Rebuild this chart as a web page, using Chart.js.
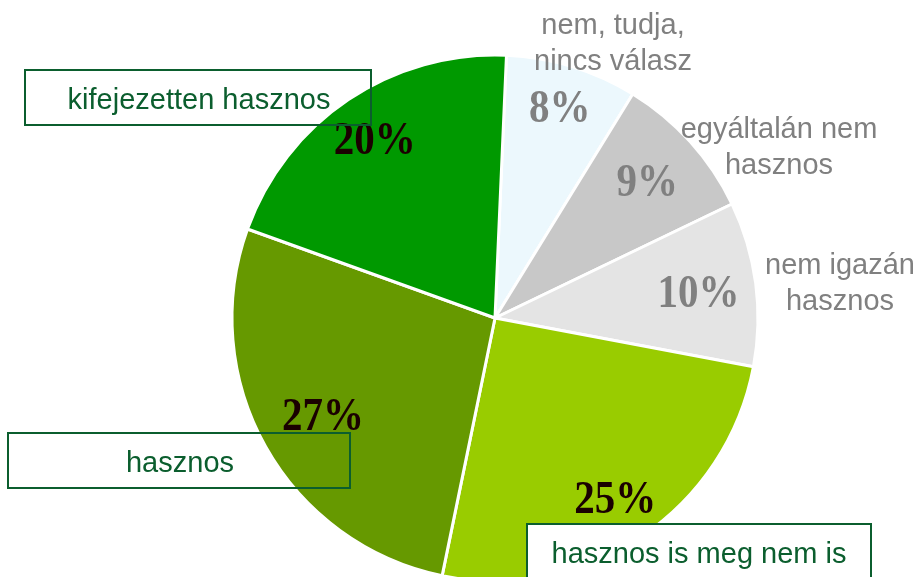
<!DOCTYPE html>
<html>
<head>
<meta charset="utf-8">
<script src="https://cdn.jsdelivr.net/npm/chart.js@4.4.1/dist/chart.umd.min.js"></script>
<style>
  html, body { margin: 0; padding: 0; background: #fff; overflow: hidden; }
  #wrap { position: absolute; left: 0; top: 0; width: 919px; height: 640px; }
</style>
</head>
<body>
<div id="wrap"><canvas id="chart"></canvas></div>
<script>
// slices in clockwise order, starting near 12 o'clock
const categories = ['nem, tudja, nincs válasz', 'egyáltalán nem hasznos', 'nem igazán hasznos',
                    'hasznos is meg nem is', 'hasznos', 'kifejezetten hasznos'];
const shares = [8, 9, 10, 25, 27, 20];
const sliceColors = ['#ecf8fd', '#c8c8c8', '#e4e4e4', '#99cc00', '#669900', '#009900'];
const pctColors = ['#808080', '#808080', '#808080', '#1a0000', '#1a0000', '#1a0000'];

// where the % text sits, as a share of the radius
const pctRadius = [0.84, 0.78, 0.78, 0.82, 0.75, 0.82];

// category captions (baseline of first line)
const captions = [
    { lines: ['nem, tudja,', 'nincs válasz'], x: 613, y: 34, color: '#808080' },
    { lines: ['egyáltalán nem', 'hasznos'], x: 779, y: 138, color: '#808080' },
    { lines: ['nem igazán', 'hasznos'], x: 840, y: 274, color: '#808080' },
    { lines: ['hasznos is meg nem is'], x: 699, y: 563, color: '#0b5e2e', box: [527, 524, 344, 70], fill: '#ffffff' },
    { lines: ['hasznos'], x: 180, y: 472, color: '#0b5e2e', box: [8, 433, 342, 55] },
    { lines: ['kifejezetten hasznos'], x: 199, y: 109, color: '#0b5e2e', box: [25, 70, 346, 55] }
];

const labelPlugin = {
    id: 'labels',
    afterDatasetsDraw(chart) {
        const ctx = chart.ctx;
        const arcs = chart.getDatasetMeta(0).data;

        // percentages inside the slices
        arcs.forEach((arc, i) => {
            const mid = (arc.startAngle + arc.endAngle) / 2;
            const r = arc.outerRadius * pctRadius[i];
            const x = arc.x + Math.cos(mid) * r;
            const y = arc.y + Math.sin(mid) * r;
            ctx.save();
            ctx.translate(x, y);
            ctx.scale(1, 1.15);
            ctx.font = 'bold 41px "Liberation Serif", "Times New Roman", serif';
            ctx.fillStyle = pctColors[i];
            ctx.textAlign = 'center';
            ctx.textBaseline = 'alphabetic';
            ctx.fillText(shares[i] + '%', 0, 13.5);
            ctx.restore();
        });

        // captions and boxes
        captions.forEach(c => {
            ctx.save();
            if (c.box) {
                const [bx, by, bw, bh] = c.box;
                if (c.fill) {
                    ctx.fillStyle = c.fill;
                    ctx.fillRect(bx, by, bw, bh);
                }
                ctx.strokeStyle = '#0b5e2e';
                ctx.lineWidth = 2;
                ctx.strokeRect(bx, by, bw, bh);
            }
            ctx.font = '29px "Liberation Sans", Arial, sans-serif';
            ctx.fillStyle = c.color;
            ctx.textAlign = 'center';
            ctx.textBaseline = 'alphabetic';
            c.lines.forEach((line, k) => ctx.fillText(line, c.x, c.y + k * 36));
            ctx.restore();
        });
    }
};

new Chart(document.getElementById('chart'), {
    type: 'pie',
    data: {
        labels: categories,
        datasets: [{
            data: shares,
            backgroundColor: sliceColors,
            borderColor: '#ffffff',
            borderWidth: 3,
            hoverOffset: 0,
            offset: 0
        }]
    },
    options: {
        responsive: true,
        maintainAspectRatio: false,
        animation: false,
        events: [],
        rotation: 2.5,
        radius: 263,
        layout: { padding: { left: 230, right: 159, top: 53, bottom: 57 } },
        plugins: {
            legend: { display: false },
            tooltip: { enabled: false }
        }
    },
    plugins: [labelPlugin]
});
</script>
</body>
</html>
